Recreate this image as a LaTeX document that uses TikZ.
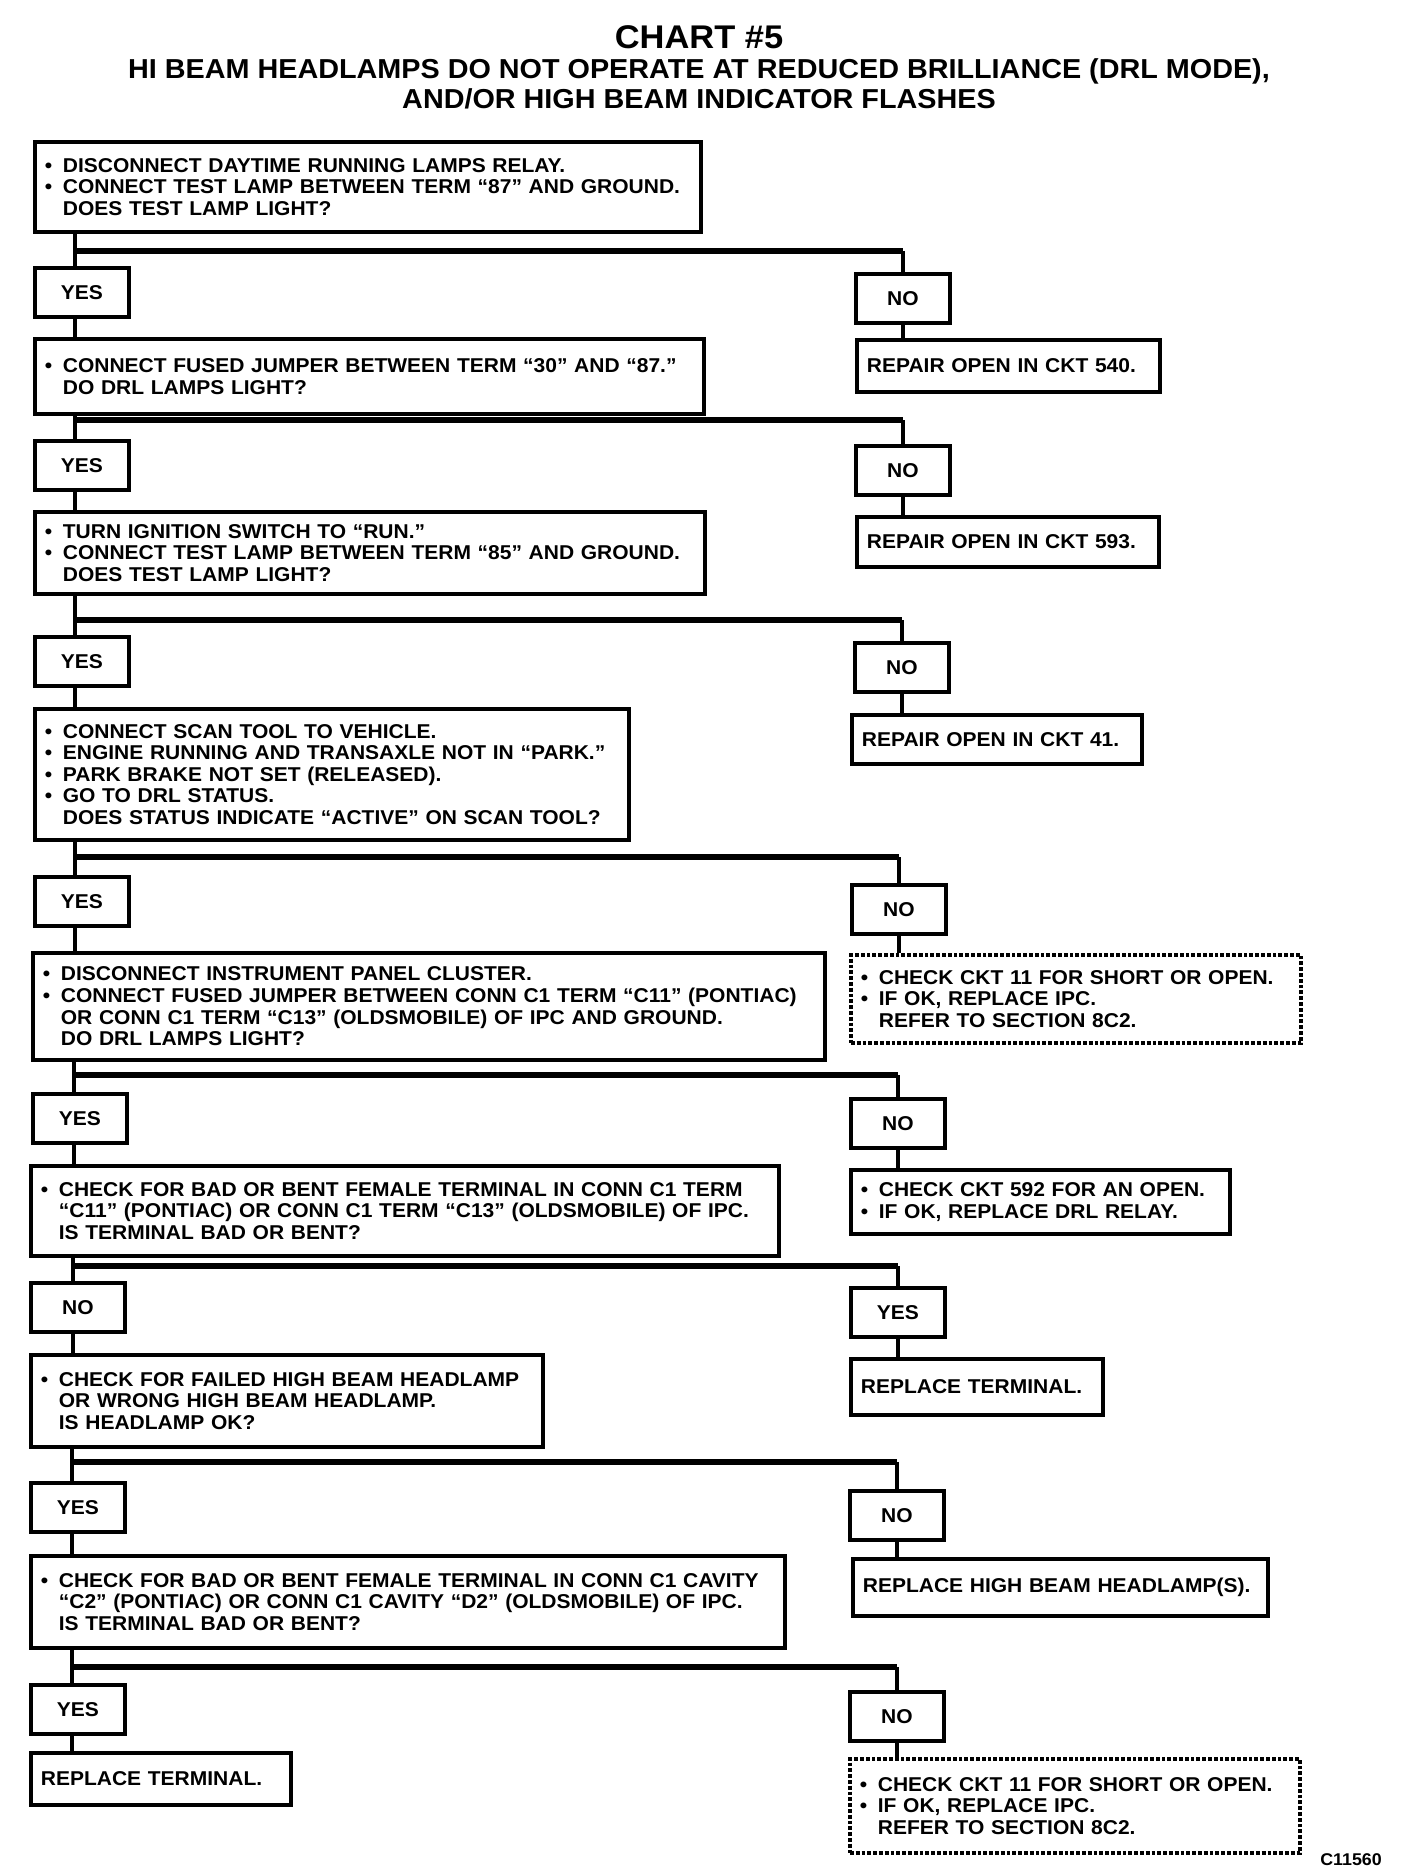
\documentclass[tikz,border=0pt]{standalone}
\usepackage{fontspec}
\setmainfont{Liberation Sans}[FakeStretch=1.05]
\newcommand\chartfont{\fontsize{10}{10.8}\selectfont\bfseries}
\newcommand\bul{\makebox[9pt][l]{\textbullet}}
\newcommand\hind{\hspace*{9pt}}
\begin{document}
\begin{tikzpicture}[x=0.5pt,y=-0.5pt,
  box/.style={draw, line width=1.9pt, anchor=north west, align=left, inner xsep=5pt, inner ysep=0pt, font=\chartfont},
  dbox/.style={box, densely dotted},
  lbl/.style={draw, line width=1.9pt, anchor=north west, minimum width=47pt, minimum height=24.5pt, inner sep=0pt, font=\chartfont},
  vl/.style={line width=2pt},
  hl/.style={line width=3.2pt}]
\useasboundingbox[fill=white] (0,0) rectangle (1408,1872);
% titles
\node[font=\fontsize{16.4}{20}\selectfont\bfseries] (title) at (699,37) {CHART \#5};
\node[font=\fontsize{13.7}{15}\selectfont\bfseries, align=center] (sub) at (699,84) {HI BEAM HEADLAMPS DO NOT OPERATE AT REDUCED BRILLIANCE (DRL MODE),\\AND/OR HIGH BEAM INDICATOR FLASHES};
% row 1
\node[box, text width=323pt, minimum height=45pt] (b1) at (33,140) {\bul DISCONNECT DAYTIME RUNNING LAMPS RELAY.\\\bul CONNECT TEST LAMP BETWEEN TERM “87” AND GROUND.\\\hind DOES TEST LAMP LIGHT?};
\node[lbl] (l1) at (33,266) {YES};
\node[lbl] (r1) at (854,272) {NO};
\node[box, text width=141.5pt, minimum height=26pt] (o1) at (855,338) {REPAIR OPEN IN CKT 540.};
% row 2
\node[box, text width=324.5pt, minimum height=37.5pt] (b2) at (33,337) {\bul CONNECT FUSED JUMPER BETWEEN TERM “30” AND “87.”\\\hind DO DRL LAMPS LIGHT?};
\node[lbl] (l2) at (33,439) {YES};
\node[lbl] (r2) at (854,444) {NO};
\node[box, text width=141pt, minimum height=25pt] (o2) at (855,515) {REPAIR OPEN IN CKT 593.};
% row 3
\node[box, text width=325pt, minimum height=41pt] (b3) at (33,510) {\bul TURN IGNITION SWITCH TO “RUN.”\\\bul CONNECT TEST LAMP BETWEEN TERM “85” AND GROUND.\\\hind DOES TEST LAMP LIGHT?};
\node[lbl] (l3) at (33,635) {YES};
\node[lbl] (r3) at (853,641) {NO};
\node[box, text width=135pt, minimum height=24.5pt] (o3) at (850,713) {REPAIR OPEN IN CKT 41.};
% row 4
\node[box, text width=287pt, minimum height=65.5pt] (b4) at (33,707) {\bul CONNECT SCAN TOOL TO VEHICLE.\\\bul ENGINE RUNNING AND TRANSAXLE NOT IN “PARK.”\\\bul PARK BRAKE NOT SET (RELEASED).\\\bul GO TO DRL STATUS.\\\hind DOES STATUS INDICATE “ACTIVE” ON SCAN TOOL?};
\node[lbl] (l4) at (33,875) {YES};
\node[lbl] (r4) at (850,883) {NO};
\node[dbox, text width=215pt, minimum height=44pt] (o4) at (849,953) {\bul CHECK CKT 11 FOR SHORT OR OPEN.\\\bul IF OK, REPLACE IPC.\\\hind REFER TO SECTION 8C2.};
% row 5
\node[box, text width=386pt, minimum height=53.5pt] (b5) at (31,951) {\bul DISCONNECT INSTRUMENT PANEL CLUSTER.\\\bul CONNECT FUSED JUMPER BETWEEN CONN C1 TERM “C11” (PONTIAC)\\\hind OR CONN C1 TERM “C13” (OLDSMOBILE) OF IPC AND GROUND.\\\hind DO DRL LAMPS LIGHT?};
\node[lbl] (l5) at (31,1092) {YES};
\node[lbl] (r5) at (849,1097) {NO};
\node[box, text width=179.5pt, minimum height=32pt] (o5) at (849,1168) {\bul CHECK CKT 592 FOR AN OPEN.\\\bul IF OK, REPLACE DRL RELAY.};
% row 6
\node[box, text width=364pt, minimum height=45pt] (b6) at (29,1164) {\bul CHECK FOR BAD OR BENT FEMALE TERMINAL IN CONN C1 TERM\\\hind “C11” (PONTIAC) OR CONN C1 TERM “C13” (OLDSMOBILE) OF IPC.\\\hind IS TERMINAL BAD OR BENT?};
\node[lbl] (l6) at (29,1281) {NO};
\node[lbl] (r6) at (849,1286) {YES};
\node[box, text width=116pt, minimum height=28pt] (o6) at (849,1357) {REPLACE TERMINAL.};
% row 7
\node[box, text width=246pt, minimum height=46pt] (b7) at (29,1353) {\bul CHECK FOR FAILED HIGH BEAM HEADLAMP\\\hind OR WRONG HIGH BEAM HEADLAMP.\\\hind IS HEADLAMP OK?};
\node[lbl] (l7) at (29,1481) {YES};
\node[lbl] (r7) at (848,1489) {NO};
\node[box, text width=197.5pt, minimum height=28.5pt] (o7) at (851,1557) {REPLACE HIGH BEAM HEADLAMP(S).};
% row 8
\node[box, text width=367pt, minimum height=46pt] (b8) at (29,1554) {\bul CHECK FOR BAD OR BENT FEMALE TERMINAL IN CONN C1 CAVITY\\\hind “C2” (PONTIAC) OR CONN C1 CAVITY “D2” (OLDSMOBILE) OF IPC.\\\hind IS TERMINAL BAD OR BENT?};
\node[lbl] (l8) at (29,1683) {YES};
\node[lbl] (r8) at (848,1690) {NO};
\node[box, text width=120pt, minimum height=26pt] (t9) at (29,1751) {REPLACE TERMINAL.};
\node[dbox, text width=215pt, minimum height=47pt] (o8) at (848,1757) {\bul CHECK CKT 11 FOR SHORT OR OPEN.\\\bul IF OK, REPLACE IPC.\\\hind REFER TO SECTION 8C2.};
\node[font=\fontsize{8.5}{10}\selectfont\bfseries] (code) at (1351,1860) {C11560};
% junctions
\coordinate (j1) at (75,251);
\coordinate (j2) at (75,420);
\coordinate (j3) at (75,620);
\coordinate (j4) at (75,857);
\coordinate (j5) at (74,1075);
\coordinate (j6) at (73,1266);
\coordinate (j7) at (72,1462);
\coordinate (j8) at (72,1667);
% connectors
\foreach \i/\n in {1/2,2/3,3/4,4/5,5/6,6/7,7/8} {
  \draw[vl] (b\i.south -| j\i) -- (l\i.north -| j\i);
  \draw[hl] (j\i) -- (j\i -| r\i.north);
  \draw[vl] (j\i -| r\i.north) -- (r\i.north);
  \draw[vl] (l\i.south -| j\i) -- (b\n.north -| j\i);
  \draw[vl] (r\i.south) -- (o\i.north -| r\i.south);
}
\draw[vl] (b8.south -| j8) -- (l8.north -| j8);
\draw[hl] (j8) -- (j8 -| r8.north);
\draw[vl] (j8 -| r8.north) -- (r8.north);
\draw[vl] (l8.south -| j8) -- (t9.north -| j8);
\draw[vl] (r8.south) -- (o8.north -| r8.south);
\end{tikzpicture}
\end{document}
